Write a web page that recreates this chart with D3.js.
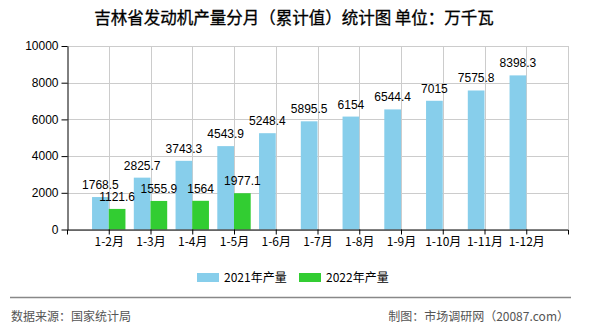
<!DOCTYPE html>
<html>
<head>
<meta charset="utf-8">
<script src="https://cdn.jsdelivr.net/npm/d3@7"></script>
<style>
  html, body { margin: 0; padding: 0; background: #fff; }
  svg { display: block; }
</style>
</head>
<body>
<svg id="chart" width="590" height="330"></svg>
<script>
const categories = ['1-2月','1-3月','1-4月','1-5月','1-6月','1-7月','1-8月','1-9月','1-10月','1-11月','1-12月'];
const values2021 = [1768.5, 2825.7, 3743.3, 4543.9, 5248.4, 5895.5, 6154, 6544.4, 7015, 7575.8, 8398.3];
const values2022 = [1121.6, 1555.9, 1564, 1977.1, null, null, null, null, null, null, null];
const yTickValues = [0, 2000, 4000, 6000, 8000, 10000];
const seriesNames = ['2021年产量', '2022年产量'];
const seriesColors = ['#87CEEB', '#32CD32'];
const titleText = '吉林省发动机产量分月（累计值）统计图 单位：万千瓦';
const sourceText = '数据来源：国家统计局';
const makerText = '制图：市场调研网（20087.com）';

(function () {
const CJK = "'Noto Sans CJK SC', sans-serif";
const NUM = "'Liberation Sans', Arial, sans-serif";

const svg = d3.select('#chart');
const pL = 67, pR = 568, pT = 46, pB = 229.5;

const x = d3.scalePoint().domain(categories).range([pL, pR]).padding(1);
const y = d3.scaleLinear().domain([0, 10000]).range([pB, pT]);
const barW = x.step() * 0.4;

// Title
svg.append('text')
  .attr('x', 294).attr('y', 24)
  .attr('text-anchor', 'middle')
  .attr('font-family', CJK).attr('font-size', 16.5)
  .attr('font-weight', 'normal')
  .attr('stroke', '#000').attr('stroke-width', 0.3)
  .attr('fill', '#000')
  .text(titleText);

// Grid
const grid = svg.append('g');
grid.selectAll('line.h').data(yTickValues).enter().append('line')
  .attr('x1', pL).attr('x2', pR)
  .attr('y1', d => Math.round(y(d)) + 0.5).attr('y2', d => Math.round(y(d)) + 0.5)
  .attr('stroke', '#cccccc').attr('stroke-width', 1);
grid.selectAll('line.v').data(categories).enter().append('line')
  .attr('x1', d => Math.round(x(d)) + 0.5).attr('x2', d => Math.round(x(d)) + 0.5)
  .attr('y1', pT).attr('y2', pB)
  .attr('stroke', '#cccccc').attr('stroke-width', 1);
grid.append('line')
  .attr('x1', pR + 0.5).attr('x2', pR + 0.5)
  .attr('y1', pT).attr('y2', pB)
  .attr('stroke', '#cccccc').attr('stroke-width', 1);

// Bars
const series = [values2021, values2022];
series.forEach((vals, si) => {
  const g = svg.append('g');
  const data = categories.map((c, i) => ({ c, v: vals[i] })).filter(d => d.v != null);
  g.selectAll('rect').data(data).enter().append('rect')
    .attr('x', d => x(d.c) + (si === 0 ? -barW : 0))
    .attr('y', d => y(d.v))
    .attr('width', barW)
    .attr('height', d => pB - y(d.v))
    .attr('fill', seriesColors[si]);
});

// Labels
series.forEach((vals, si) => {
  const g = svg.append('g');
  const data = categories.map((c, i) => ({ c, v: vals[i] })).filter(d => d.v != null);
  g.selectAll('text').data(data).enter().append('text')
    .attr('x', d => x(d.c) + (si === 0 ? -barW / 2 : barW / 2))
    .attr('y', d => y(d.v) - 8)
    .attr('text-anchor', 'middle')
    .attr('font-family', NUM).attr('font-size', 12)
    .attr('fill', '#000')
    .text(d => String(d.v));
});

// Y axis
const yAxis = svg.append('g')
  .attr('transform', `translate(${pL + 0.5},0)`)
  .call(d3.axisLeft(y).tickValues(yTickValues).tickSize(6).tickSizeOuter(0).tickPadding(3).tickFormat(d3.format('d')));
yAxis.selectAll('text').attr('font-family', NUM).attr('font-size', 12).attr('fill', '#000');
yAxis.selectAll('line, path').attr('stroke', '#000');

// X axis
const xAxis = svg.append('g')
  .attr('transform', `translate(0,${pB})`)
  .call(d3.axisBottom(x).tickSize(5).tickSizeOuter(5).tickPadding(3));
xAxis.selectAll('text').attr('font-family', CJK).attr('font-size', 12).attr('fill', '#000');
xAxis.selectAll('line, path').attr('stroke', '#000');

// Legend
const legendX = [197, 299];
seriesNames.forEach((n, i) => {
  svg.append('rect')
    .attr('x', legendX[i]).attr('y', 273)
    .attr('width', 22).attr('height', 9)
    .attr('fill', seriesColors[i]);
  svg.append('text')
    .attr('x', legendX[i] + 27).attr('y', 282)
    .attr('font-family', CJK).attr('font-size', 12)
    .attr('fill', '#000')
    .text(n);
});

// Separator
svg.append('line')
  .attr('x1', 10).attr('x2', 571)
  .attr('y1', 297.5).attr('y2', 297.5)
  .attr('stroke', '#888').attr('stroke-width', 1.5);

// Footer
svg.append('text')
  .attr('x', 11).attr('y', 321)
  .attr('font-family', CJK).attr('font-size', 12)
  .attr('fill', '#555')
  .text(sourceText);
svg.append('text')
  .attr('x', 569).attr('y', 321)
  .attr('text-anchor', 'end')
  .attr('font-family', CJK).attr('font-size', 12)
  .attr('fill', '#555')
  .text(makerText);
})();
</script>
</body>
</html>
